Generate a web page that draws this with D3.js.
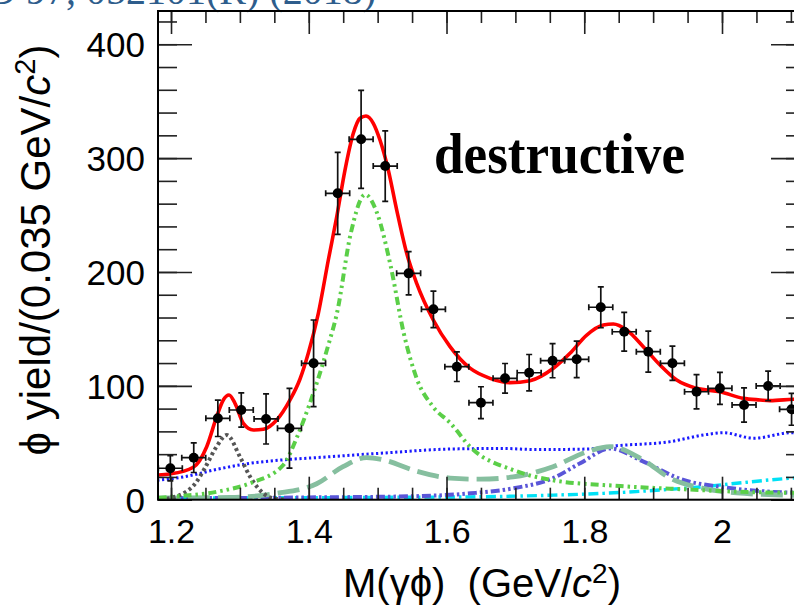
<!DOCTYPE html>
<html><head><meta charset="utf-8">
<script src="https://cdn.jsdelivr.net/npm/d3@7"></script>
<style>body{margin:0;background:#fff}svg{display:block}</style>
</head><body><svg id="c" width="794" height="608"></svg>
<script>
// ---- data ----
const massBins = [1.199,1.233,1.268,1.302,1.338,1.372,1.407,1.442,1.476,1.511,1.545,1.581,1.615,1.650,1.685,1.720,1.754,1.789,1.824,1.858,1.893,1.928,1.963,1.997,2.032,2.067,2.101];
const yieldValues = [27.6,36.9,71.5,78.8,70.9,62.7,119.8,269.1,316.5,293,198.8,167.2,116.8,85.2,106.6,111.5,122.1,123.3,169,147.5,130,119.8,94.8,97.8,83.2,99.9,79.4];
const yieldErrors = [11,13,16,15,22,35,38,36,43,31,19,16,13,14,13,16,15,16,18,17,18,15,15,14,15,13,14];
const binHalfWidth = 0.0174;

const totalFit = [[1.179,21.7],[1.1985,22.6],[1.2324,28.5],[1.2518,46.5],[1.2663,72.9],[1.2759,87.6],[1.2842,92],[1.2929,84.7],[1.305,67],[1.3195,61.2],[1.334,61.8],[1.3535,70],[1.3728,87.6],[1.3873,106],[1.3993,128.6],[1.4139,163.7],[1.4284,210.5],[1.4406,248.5],[1.4526,289.5],[1.4647,321.8],[1.4744,335],[1.4831,337],[1.4937,330.6],[1.5034,315.9],[1.5155,289.5],[1.5277,254.4],[1.5422,216.4],[1.5567,190],[1.5808,157.8],[1.6051,134.4],[1.6341,115.5],[1.6632,106.6],[1.6922,102.8],[1.7212,104.5],[1.7551,115.4],[1.7793,128.6],[1.8036,144.6],[1.8277,153.4],[1.8422,154.3],[1.8616,149],[1.8857,134.4],[1.91,118.3],[1.9342,105.1],[1.9632,97.8],[1.9971,94.8],[2.0309,89],[2.0552,87.6],[2.0697,87],[2.1035,88.2],[2.121,88.5]];
const f1420Comp = [[1.182,1.5],[1.199,2.5],[1.267,7],[1.315,14.5],[1.363,30.5],[1.383,55],[1.400,82],[1.413,105],[1.428,135],[1.441,164],[1.461,234],[1.482,268],[1.499,252],[1.519,205],[1.538,146],[1.557,106],[1.580,82],[1.606,67],[1.635,46],[1.697,26],[1.755,17],[1.852,12],[1.949,9],[2.022,7],[2.121,6]];
const f1285Comp = [[1.185,0.5],[1.199,1.5],[1.218,5.6],[1.235,14],[1.249,27.6],[1.266,46.5],[1.281,56.8],[1.300,37.8],[1.315,20],[1.334,5.6],[1.350,1],[1.365,0.3]];
const bkgComp = [[1.180,17],[1.218,20],[1.267,26.7],[1.315,32],[1.363,35],[1.412,37],[1.509,41],[1.606,44.5],[1.683,45],[1.731,44],[1.804,44.5],[1.847,47.4],[1.925,51],[1.973,56.8],[2.002,58.8],[2.046,54],[2.099,58.8],[2.121,59]];
const interfComp = [[1.181,1.5],[1.2857,2],[1.3535,5.6],[1.4115,14],[1.4497,29],[1.4841,37],[1.5082,35],[1.5567,25],[1.6051,19],[1.6486,18],[1.6966,20],[1.7546,29],[1.8036,42],[1.8374,46.6],[1.8853,35],[1.9245,19],[1.9724,10],[2.0213,6],[2.094,4],[2.121,3.5]];
const f1850Comp = [[1.181,1.2],[1.40,2],[1.55,3],[1.635,5.6],[1.697,10],[1.755,19],[1.794,32],[1.838,45],[1.886,33.4],[1.944,17.3],[1.997,11.4],[2.070,7],[2.121,6]];
const highComp = [[1.181,1.5],[1.635,2.5],[1.755,4],[1.828,5.6],[1.910,8.5],[1.973,11.4],[2.021,14.4],[2.099,18.8],[2.121,19.5]];

const xMajorTicks = [1.2,1.4,1.6,1.8,2.0];
const xTickLabels = ["1.2","1.4","1.6","1.8","2"];
const yMajorTicks = [0,100,200,300,400];
const yTickLabels = ["0","100","200","300","400"];

// ---- drawing ----
const svg = d3.select("#c");
const L = 158, R = 805, T = 11, B = 499.7;
const x = d3.scaleLinear().domain([1.1811, 2.1205]).range([L, R]);
const y = d3.scaleLinear().domain([0, 429.2]).range([B, T]);

svg.append("defs").append("clipPath").attr("id","clip")
  .append("rect").attr("x",L).attr("y",T).attr("width",R-L).attr("height",B-T);

// citation header (cropped at top in the reference)
svg.append("text").attr("x",376).attr("y",4).attr("text-anchor","end")
  .attr("font-family","Liberation Serif, serif").attr("font-size",40)
  .attr("fill","#2e5d8c").text("Phys. Rev. D 97, 052101(R) (2018)");

const g = svg.append("g").attr("clip-path","url(#clip)");
const line = d3.line().x(d=>x(d[0])).y(d=>y(d[1])).curve(d3.curveMonotoneX);

const comps = [
  {d: bkgComp, c:"#1a1aff", w:3, dash:"2.2,2.6"},
  {d: highComp, c:"#00e1f5", w:3.4, dash:"10,4,2.5,4"},
  {d: f1850Comp, c:"#5a55d8", w:4, dash:"2.5,3,2.5,3,9,3"},
  {d: interfComp, c:"#86bf9f", w:4.8, dash:"22,8"},
  {d: f1285Comp, c:"#555555", w:4, dash:"3,3"},
  {d: f1420Comp, c:"#5bcf48", w:4, dash:"8,4,2.5,4,2.5,4"},
];
comps.forEach(s => g.append("path").attr("d", line(s.d)).attr("fill","none")
  .attr("stroke", s.c).attr("stroke-width", s.w).attr("stroke-dasharray", s.dash));

g.append("path").attr("d", line(totalFit)).attr("fill","none")
  .attr("stroke","#ff0000").attr("stroke-width",3.6);

// data points with error bars
const pts = massBins.map((m,i)=>({m, v:yieldValues[i], e:yieldErrors[i]}));
const eg = g.append("g").attr("stroke","#111").attr("stroke-width",1.7);
pts.forEach(p=>{
  const cx = x(p.m), cy = y(p.v), y1 = y(p.v+p.e), y2 = y(Math.max(0,p.v-p.e));
  const x1 = x(p.m-binHalfWidth), x2 = x(p.m+binHalfWidth);
  eg.append("line").attr("x1",cx).attr("x2",cx).attr("y1",y1).attr("y2",y2);
  eg.append("line").attr("x1",x1).attr("x2",x2).attr("y1",cy).attr("y2",cy);
  eg.append("line").attr("x1",cx-3).attr("x2",cx+3).attr("y1",y1).attr("y2",y1);
  eg.append("line").attr("x1",cx-3).attr("x2",cx+3).attr("y1",y2).attr("y2",y2);
  eg.append("line").attr("x1",x1).attr("x2",x1).attr("y1",cy-3).attr("y2",cy+3);
  eg.append("line").attr("x1",x2).attr("x2",x2).attr("y1",cy-3).attr("y2",cy+3);
});
g.append("g").selectAll("circle").data(pts).join("circle")
  .attr("cx",d=>x(d.m)).attr("cy",d=>y(d.v)).attr("r",5).attr("fill","#000");

// axes (ticks inside the frame, ROOT style)
function styleAxis(sel){
  sel.select(".domain").remove();
  sel.selectAll(".tick line").attr("stroke","#222").attr("stroke-width",1.6);
  sel.selectAll("text").attr("font-family","Liberation Sans, Arial, sans-serif").attr("fill","#000");
}
const xMinor = d3.range(1.2, 2.1201, 0.05);
const yMinor = d3.range(0, 429, 20);

svg.append("g").attr("transform",`translate(0,${B})`)
  .call(d3.axisBottom(x).tickValues(xMinor).tickSize(-12).tickFormat(""))
  .call(styleAxis);
svg.append("g").attr("transform",`translate(0,${B})`)
  .call(d3.axisBottom(x).tickValues(xMajorTicks).tickSize(-23).tickPadding(19)
    .tickFormat((d,i)=>xTickLabels[i]))
  .call(styleAxis).call(s=>s.selectAll("text").attr("font-size",34));
svg.append("g").attr("transform",`translate(0,${T})`)
  .call(d3.axisTop(x).tickValues(xMinor).tickSize(-12).tickFormat(""))
  .call(styleAxis);
svg.append("g").attr("transform",`translate(0,${T})`)
  .call(d3.axisTop(x).tickValues(xMajorTicks).tickSize(-23).tickFormat(""))
  .call(styleAxis);
svg.append("g").attr("transform",`translate(${L},0)`)
  .call(d3.axisLeft(y).tickValues(yMinor).tickSize(-19).tickFormat(""))
  .call(styleAxis);
svg.append("g").attr("transform",`translate(${L},0)`)
  .call(d3.axisLeft(y).tickValues(yMajorTicks).tickSize(-34).tickPadding(13)
    .tickFormat((d,i)=>yTickLabels[i]))
  .call(styleAxis).call(s=>s.selectAll("text").attr("font-size",35).attr("dy","0.36em"));
svg.append("g").attr("transform",`translate(${R},0)`)
  .call(d3.axisRight(y).tickValues(yMinor).tickSize(-19).tickFormat(""))
  .call(styleAxis);
svg.append("g").attr("transform",`translate(${R},0)`)
  .call(d3.axisRight(y).tickValues(yMajorTicks).tickSize(-34).tickFormat(""))
  .call(styleAxis);

// frame
svg.append("rect").attr("x",L).attr("y",T).attr("width",R-L).attr("height",B-T)
  .attr("fill","none").attr("stroke","#000").attr("stroke-width",2);

// axis titles
const xt = svg.append("text").attr("x",482).attr("y",597).attr("text-anchor","middle")
  .attr("font-family","Liberation Sans, Arial, sans-serif").attr("font-size",40).attr("fill","#000");
xt.append("tspan").text("M(γϕ)\u00a0\u00a0(GeV/");
xt.append("tspan").attr("font-style","italic").text("c");
xt.append("tspan").attr("font-size",28).attr("dy",-14).text("2");
xt.append("tspan").attr("dy",14).text(")");

const yt = svg.append("text").attr("transform","translate(50,250) rotate(-90)").attr("text-anchor","middle")
  .attr("font-family","Liberation Sans, Arial, sans-serif").attr("font-size",42).attr("fill","#000");
yt.append("tspan").text("ϕ yield/(0.035 GeV/");
yt.append("tspan").attr("font-style","italic").text("c");
yt.append("tspan").attr("font-size",29).attr("dy",-15).text("2");
yt.append("tspan").attr("dy",15).text(")");

// annotation
svg.append("text").attr("x",434).attr("y",173)
  .attr("font-family","Liberation Serif, Times New Roman, serif").attr("font-weight","bold")
  .attr("font-size",56).attr("textLength",251).attr("lengthAdjust","spacingAndGlyphs")
  .attr("fill","#000").text("destructive");
</script></body></html>
